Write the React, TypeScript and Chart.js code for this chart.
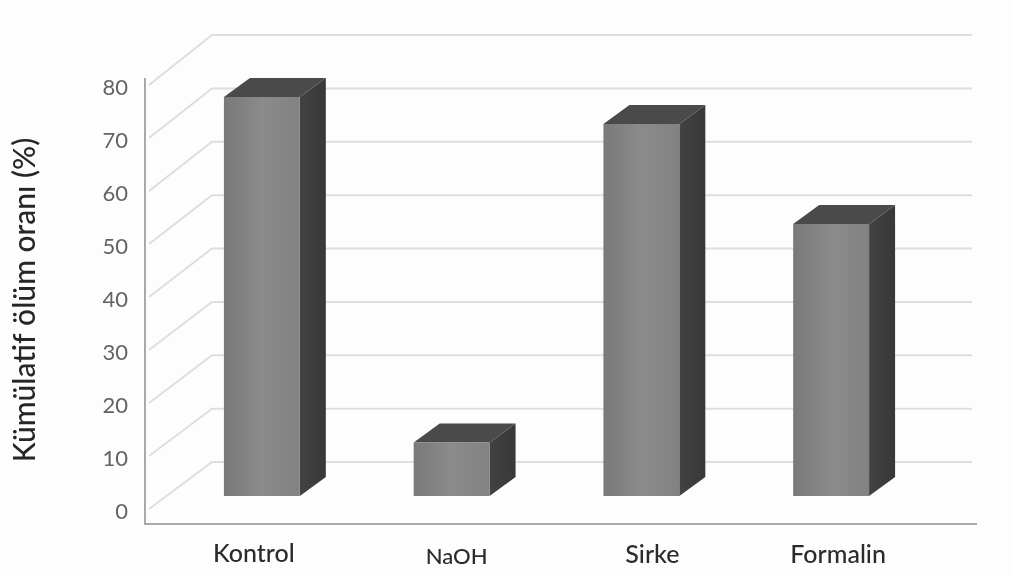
import React, { useEffect, useRef } from "react";
import { Chart, registerables } from "chart.js";

Chart.register(...registerables);

const categories = ["Kontrol", "NaOH", "Sirke", "Formalin"];
const mortality = [75.3, 10.1, 70.2, 51.3];
const axisMax = 80;
const axisStep = 10;
const axisTitle = "Kümülatif ölüm oranı (%)";

// Oblique projection used for the box depth and the walls of the plot.
const BAR_DEPTH = { dx: 26, dy: 19 };
const FLOOR_LIFT = 16;
const WALL = { left: 147, back: 212, right: 972, lift: 50, liftAtTop: 53, frontShift: 3 };
const AXIS_COLOR = "#a9a9a9";
const GRID_COLOR = "#dedede";

// Category captions are hand-placed around their bars.
const CAPTION_SHIFT_X = [-8, 5, 11, 7];
const CAPTION_BASELINE = [50, 52, 51, 51];
const CAPTION_SIZE = [25, 22, 25, 25];

function polygon(ctx: CanvasRenderingContext2D, pts: number[][], fill: string | CanvasGradient) {
  ctx.beginPath();
  pts.forEach(([x, y], i) => (i ? ctx.lineTo(x, y) : ctx.moveTo(x, y)));
  ctx.closePath();
  ctx.fillStyle = fill;
  ctx.fill();
}

const wallsAndBoxes = {
  id: "wallsAndBoxes",
  beforeDatasetsDraw(chart: any) {
    const { ctx, scales } = chart;
    const y = scales.y;

    // Axis frame
    ctx.save();
    ctx.strokeStyle = AXIS_COLOR;
    ctx.lineWidth = 2;
    ctx.beginPath();
    ctx.moveTo(145, y.getPixelForValue(axisMax) - 10);
    ctx.lineTo(145, y.getPixelForValue(0) + 12);
    ctx.lineTo(977, y.getPixelForValue(0) + 12);
    ctx.stroke();

    // Side wall diagonals and back wall rules
    ctx.strokeStyle = GRID_COLOR;
    for (let v = 0; v <= axisMax; v += axisStep) {
      const tick = y.getPixelForValue(v);
      const lift = WALL.lift + ((WALL.liftAtTop - WALL.lift) * v) / axisMax;
      ctx.beginPath();
      ctx.moveTo(WALL.left + 2, tick - WALL.frontShift);
      ctx.lineTo(WALL.back, tick - lift);
      ctx.lineTo(WALL.right, tick - lift);
      ctx.stroke();
    }
    ctx.restore();

    // Boxes sit on the raised floor; the faces behind the front are drawn first.
    ctx.save();
    ctx.translate(0, -FLOOR_LIFT);
    const meta = chart.getDatasetMeta(0);
    for (const bar of meta.data) {
      const l = bar.x - bar.width / 2;
      const r = bar.x + bar.width / 2;
      const t = bar.y;
      const b = bar.base;
      const { dx, dy } = BAR_DEPTH;
      const side = ctx.createLinearGradient(r, 0, r + dx, 0);
      side.addColorStop(0, "#424242");
      side.addColorStop(1, "#383838");
      polygon(ctx, [[r, t], [r + dx, t - dy], [r + dx, b - dy], [r, b]], side);
      polygon(ctx, [[l, t], [l + dx, t - dy], [r + dx, t - dy], [r, t]], "#4a4a4a");
    }
  },
  afterDatasetsDraw(chart: any) {
    chart.ctx.restore();
  },
  afterDraw(chart: any) {
    const { ctx, scales } = chart;
    const zero = scales.y.getPixelForValue(0);
    ctx.save();
    ctx.fillStyle = "#2b2b2b";
    ctx.textAlign = "center";
    ctx.textBaseline = "alphabetic";
    categories.forEach((name, i) => {
      ctx.font = `500 ${CAPTION_SIZE[i]}px Lato`;
      ctx.fillText(name, scales.x.getPixelForValue(i) + CAPTION_SHIFT_X[i], zero + CAPTION_BASELINE[i]);
    });
    ctx.restore();
  },
};

export default function App() {
  const ref = useRef<HTMLCanvasElement>(null);

  useEffect(() => {
    const chart = new Chart(ref.current!, {
      type: "bar",
      data: {
        labels: categories,
        datasets: [
          {
            data: mortality,
            clip: false,
            categoryPercentage: 1,
            barPercentage: 0.4,
            borderWidth: 0,
            backgroundColor: (c: any) => {
              const x = c.chart.scales.x;
              const mid = x && c.dataIndex !== undefined ? x.getPixelForValue(c.dataIndex) : NaN;
              if (!Number.isFinite(mid)) return "#858585";
              const g = c.chart.ctx.createLinearGradient(mid - 38, 0, mid + 38, 0);
              g.addColorStop(0, "#797979");
              g.addColorStop(0.5, "#8b8b8b");
              g.addColorStop(1, "#828282");
              return g;
            },
          } as any,
        ],
      },
      options: {
        responsive: false,
        animation: false,
        layout: { padding: { left: 7, top: 88, right: 86, bottom: 0 } },
        plugins: { legend: { display: false }, tooltip: { enabled: false } },
        scales: {
          x: {
            grid: { display: false },
            border: { display: false },
            afterFit: (s: any) => { s.height = 65; },
            ticks: { display: false },
          },
          y: {
            min: 0,
            max: axisMax,
            grid: { display: false },
            border: { display: false },
            afterFit: (s: any) => { s.width = 160; },
            ticks: {
              stepSize: axisStep,
              padding: 31,
              color: "#636363",
              font: { family: "Lato", size: 22 },
            },
            title: {
              display: true,
              text: axisTitle,
              color: "#262626",
              padding: 0,
              font: { family: "Lato", size: 30, weight: "500" },
            },
          },
        },
      },
      plugins: [wallsAndBoxes],
    });
    return () => chart.destroy();
  }, []);

  return (
    <canvas
      ref={ref}
      width={1012}
      height={577}
      style={{ position: "absolute", left: 0, top: 0, display: "block", background: "#fdfdfd" }}
    />
  );
}
